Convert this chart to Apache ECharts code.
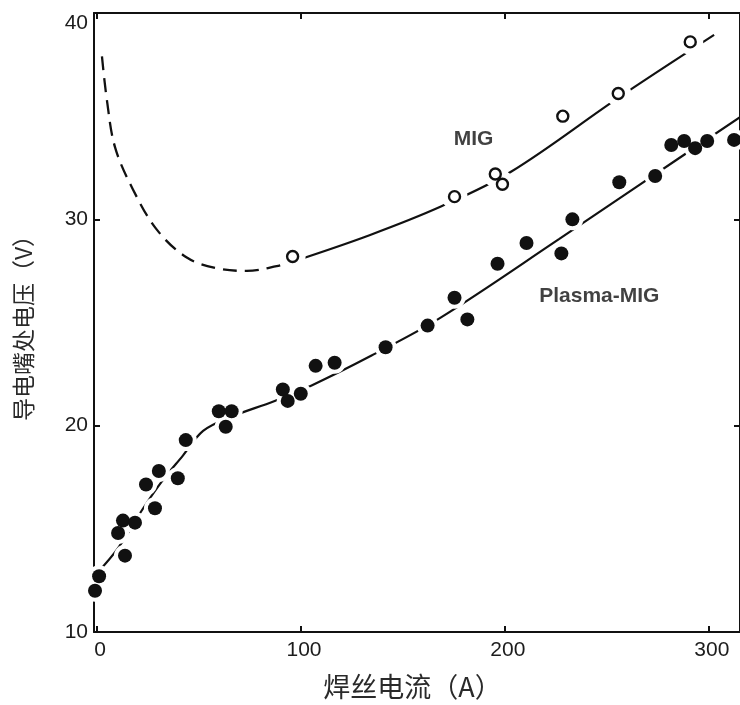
<!DOCTYPE html>
<html>
<head>
<meta charset="utf-8">
<script src="https://cdn.jsdelivr.net/npm/echarts@6/dist/echarts.min.js"></script>
<style>
  html, body { margin: 0; padding: 0; background: #ffffff; }
  #chart { width: 740px; height: 705px; }
</style>
</head>
<body>
<div id="chart"></div>
<script>
// Axis ticks
const xTicks = [0, 100, 200, 300];
const yTicks = [10, 20, 30, 40];

// Plasma-MIG measurements (filled dots): wire current (A) vs. contact-tip voltage (V)
const plasmaCurrent = [-1, 1, 10.3, 12.7, 18.6, 13.7, 24, 30.3, 28.4, 39.6,
  43.5, 59.7, 66, 63.1, 91.1, 93.5, 99.9, 107.2, 116.5, 141.5,
  162.1, 175.3, 181.6, 196.4, 210.6, 227.7, 233.1, 256.1, 273.7, 281.6,
  287.9, 293.3, 299.2, 312.4];
const plasmaVoltage = [12.0, 12.7, 14.8, 15.4, 15.3, 13.7, 17.15, 17.8, 16.0, 17.45,
  19.3, 20.7, 20.7, 19.95, 21.75, 21.2, 21.55, 22.9, 23.05, 23.8,
  24.85, 26.2, 25.15, 27.85, 28.85, 28.35, 30.0, 31.8, 32.1, 33.6,
  33.8, 33.45, 33.8, 33.85];

// MIG measurements (open circles)
const migCurrent = [95.9, 175.3, 195.3, 198.8, 228.4, 255.6, 290.9];
const migVoltage = [28.2, 31.1, 32.2, 31.7, 35.0, 36.1, 38.6];

// Fitted trend curves
const plasmaFitCurrent = [0, 10.2, 22, 31.8, 42.1, 52, 65, 87.1, 105.2,
  134.6, 167.9, 226.7, 264.9, 315.3];
const plasmaFitVoltage = [12.85, 14.05, 15.9, 17.3, 18.55, 19.75, 20.4, 21.2, 21.95,
  23.4, 25.2, 29.05, 31.6, 34.95];

const migLowCurrent = [2.4, 4.8, 8.8, 17.6, 29.3, 44, 58.7, 73.4, 88.1, 96];
const migLowVoltage = [37.9, 35.8, 33.5, 31.45, 29.5, 28.15, 27.63, 27.5, 27.73, 27.95];

const migFitCurrent = [96, 133.6, 168.9, 203.2, 255.6, 302.6];
const migFitVoltage = [27.95, 29.23, 30.63, 32.32, 35.89, 38.94];

// Curve labels
const curveNames = ['MIG', 'Plasma-MIG'];
const curveNameCurrent = [184.6, 246.3];
const curveNameVoltage = [33.86, 26.28];

const zip = (xs, ys) => xs.map((x, i) => [x, ys[i]]);

const INK = '#111111';
const tickFont = { fontFamily: 'Liberation Sans', fontSize: 21, color: '#1c1c1c' };

const chart = echarts.init(document.getElementById('chart'), null, { renderer: 'canvas' });

const xBase = {
  type: 'value',
  min: -1.5,
  max: 315.3,
  splitLine: { show: false },
  axisLine: { show: true, onZero: false, lineStyle: { color: INK, width: 2 } },
  axisTick: { show: true, inside: true, length: 6, customValues: xTicks, lineStyle: { color: INK, width: 2 } }
};
const yBase = {
  type: 'value',
  min: 10,
  max: 40,
  interval: 10,
  splitLine: { show: false },
  axisLine: { show: true, onZero: false, lineStyle: { color: INK, width: 2 } },
  axisTick: { show: true, inside: true, length: 6, lineStyle: { color: INK, width: 2 } }
};

const option = {
  animation: false,
  backgroundColor: '#ffffff',
  grid: { left: 94, top: 13, right: -1, bottom: 71, containLabel: false },
  xAxis: [
    Object.assign({}, xBase, {
      position: 'bottom',
      name: '焊丝电流（A）',
      nameLocation: 'middle',
      nameGap: 41,
      nameTextStyle: { fontFamily: 'Noto Sans CJK SC', fontSize: 27, color: '#2a2a2a', padding: [0, 9, 0, 0] },
      axisLabel: Object.assign({ show: true, margin: 8, customValues: xTicks, padding: [0, 0, 0, 6] }, tickFont)
    }),
    Object.assign({}, xBase, { position: 'top', axisLabel: { show: false } })
  ],
  yAxis: [
    Object.assign({}, yBase, {
      position: 'left',
      name: '导电嘴处电压（V）',
      nameLocation: 'middle',
      nameGap: 59,
      nameTextStyle: { fontFamily: 'Noto Sans CJK SC', fontSize: 23, color: '#2a2a2a' },
      axisLabel: Object.assign({ show: true, margin: 6, verticalAlignMaxLabel: 'top' }, tickFont)
    }),
    Object.assign({}, yBase, { position: 'right', axisLabel: { show: false } })
  ],
  series: [
    {
      name: 'MIG low-current trend',
      type: 'line',
      data: zip(migLowCurrent, migLowVoltage),
      smooth: 0.35,
      symbol: 'none',
      silent: true,
      z: 2,
      lineStyle: { color: INK, width: 2.3, type: [14, 8] }
    },
    {
      name: 'MIG trend',
      type: 'line',
      data: zip(migFitCurrent, migFitVoltage),
      smooth: 0.35,
      symbol: 'none',
      silent: true,
      z: 2,
      lineStyle: { color: INK, width: 2.2 }
    },
    {
      name: 'Plasma-MIG trend',
      type: 'line',
      data: zip(plasmaFitCurrent, plasmaFitVoltage),
      smooth: 0.35,
      symbol: 'none',
      silent: true,
      z: 2,
      lineStyle: { color: INK, width: 2.2 }
    },
    // white clearance around the markers so the curves break where they meet them
    {
      name: 'MIG clearance',
      type: 'scatter',
      data: zip(migCurrent, migVoltage),
      symbol: 'circle',
      symbolSize: 26,
      silent: true,
      z: 3,
      itemStyle: { color: '#ffffff', opacity: 1 }
    },
    {
      name: 'Plasma-MIG clearance',
      type: 'scatter',
      data: zip(plasmaCurrent, plasmaVoltage),
      symbol: 'circle',
      symbolSize: 22,
      silent: true,
      z: 3,
      itemStyle: { color: '#ffffff', opacity: 1 }
    },
    {
      name: 'MIG',
      type: 'scatter',
      data: zip(migCurrent, migVoltage),
      symbol: 'circle',
      symbolSize: 11,
      silent: true,
      z: 4,
      itemStyle: { color: '#ffffff', borderColor: INK, borderWidth: 2.4, opacity: 1 }
    },
    {
      name: 'Plasma-MIG',
      type: 'scatter',
      data: zip(plasmaCurrent, plasmaVoltage),
      symbol: 'circle',
      symbolSize: 14,
      silent: true,
      z: 4,
      itemStyle: { color: INK, opacity: 1 }
    },
    {
      name: 'curve labels',
      type: 'scatter',
      data: curveNames.map((n, i) => ({ name: n, value: [curveNameCurrent[i], curveNameVoltage[i]] })),
      symbolSize: 0,
      silent: true,
      z: 5,
      label: {
        show: true,
        position: 'inside',
        formatter: p => p.name,
        fontFamily: 'Liberation Sans',
        fontWeight: 'bold',
        fontSize: 21,
        color: INK
      }
    }
  ]
};

chart.setOption(option);
</script>
</body>
</html>
